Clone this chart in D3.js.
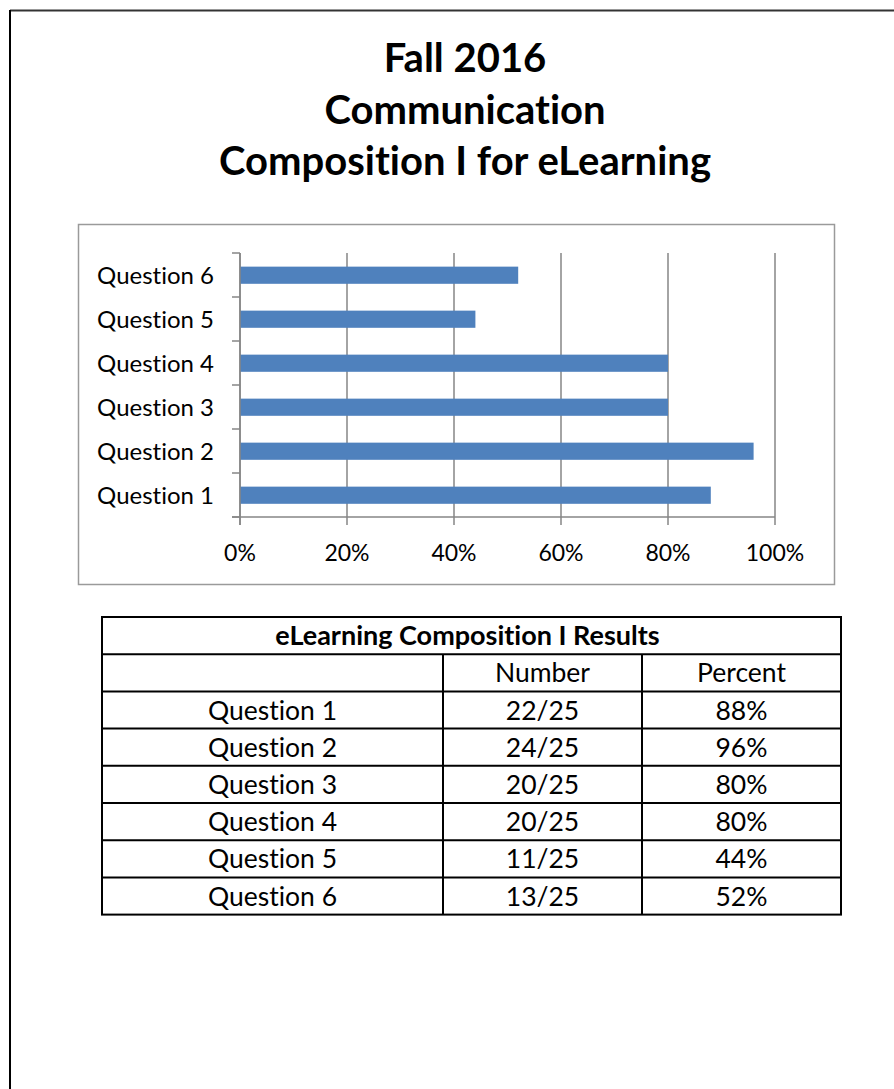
<!DOCTYPE html>
<html>
<head>
<meta charset="utf-8">
<script src="https://cdn.jsdelivr.net/npm/d3@7"></script>
<style>
  body { margin: 0; background: #fff; }
  svg { display: block; font-family: Lato, "Open Sans", sans-serif; font-variant-ligatures: none; }
</style>
</head>
<body>
<svg width="894" height="1089"></svg>
<script>
const titleLines = ["Fall 2016", "Communication", "Composition I for eLearning"];
const questions = ["Question 1", "Question 2", "Question 3", "Question 4", "Question 5", "Question 6"];
const correct = [22, 24, 20, 20, 11, 13];
const total = 25;
const percents = [88, 96, 80, 80, 44, 52];
const xTicks = [0, 20, 40, 60, 80, 100];
const tableTitle = "eLearning Composition I Results";
const tableHeads = ["", "Number", "Percent"];

const svg = d3.select("svg");

// page frame
svg.append("line").attr("x1", 10).attr("x2", 894).attr("y1", 10.5).attr("y2", 10.5)
  .attr("stroke", "#333").attr("stroke-width", 2);
svg.append("line").attr("x1", 10).attr("x2", 10).attr("y1", 10).attr("y2", 1089)
  .attr("stroke", "#000").attr("stroke-width", 2);

// title
svg.append("g")
  .attr("font-weight", "bold")
  .attr("font-size", 40)
  .attr("text-anchor", "middle")
  .selectAll("text")
  .data(titleLines)
  .join("text")
  .attr("x", 465)
  .attr("y", (d, i) => 72 + i * 51.5)
  .text(d => d);

// chart frame
svg.append("rect")
  .attr("x", 78.5).attr("y", 224.5).attr("width", 756).attr("height", 360)
  .attr("fill", "none").attr("stroke", "#9a9a9a").attr("stroke-width", 1.5);

const margin = { top: 253, left: 240, bottom: 517, right: 775 };
const grey = "#868686";

const x = d3.scaleLinear().domain([0, 100]).range([margin.left, margin.right]);
const y = d3.scaleBand().domain(questions.slice().reverse()).range([margin.top, margin.bottom]);

const data = questions.map((q, i) => ({ q, pct: percents[i] }));

const chart = svg.append("g");

// vertical gridlines + bottom ticks
chart.append("g")
  .attr("stroke", grey)
  .attr("stroke-width", 1.5)
  .selectAll("line")
  .data(xTicks)
  .join("line")
  .attr("x1", d => x(d)).attr("x2", d => x(d))
  .attr("y1", margin.top).attr("y2", margin.bottom + 8);

// bottom axis line
chart.append("line")
  .attr("x1", margin.left - 8).attr("x2", margin.right)
  .attr("y1", margin.bottom).attr("y2", margin.bottom)
  .attr("stroke", grey).attr("stroke-width", 1.5);

// left category ticks
const bounds = y.domain().map(d => y(d)).concat([margin.bottom]);
chart.append("g")
  .attr("stroke", grey)
  .attr("stroke-width", 1.5)
  .selectAll("line")
  .data(bounds)
  .join("line")
  .attr("x1", margin.left - 8).attr("x2", margin.left)
  .attr("y1", d => d).attr("y2", d => d);

// bars
chart.append("g")
  .attr("fill", "#4F81BD")
  .selectAll("rect")
  .data(data)
  .join("rect")
  .attr("x", x(0))
  .attr("y", d => y(d.q) + y.bandwidth() * 0.31)
  .attr("width", d => x(d.pct) - x(0))
  .attr("height", y.bandwidth() * 0.39);

// left axis line
chart.append("line")
  .attr("x1", margin.left).attr("x2", margin.left)
  .attr("y1", margin.top).attr("y2", margin.bottom + 8)
  .attr("stroke", grey).attr("stroke-width", 1.5);

// category labels
chart.append("g")
  .attr("font-size", 24)
  .attr("text-anchor", "end")
  .selectAll("text")
  .data(data)
  .join("text")
  .attr("x", margin.left - 26)
  .attr("y", d => y(d.q) + y.bandwidth() / 2)
  .attr("dy", "0.36em")
  .text(d => d.q);

// percent tick labels
chart.append("g")
  .attr("font-size", 23)
  .attr("text-anchor", "middle")
  .selectAll("text")
  .data(xTicks)
  .join("text")
  .attr("x", d => x(d))
  .attr("y", 561)
  .text(d => d + "%");

// results table
const table = { left: 102, top: 617, right: 841, rowH: 37.2, cols: [102, 443, 642, 841] };
const rows = questions.map((q, i) => [q, correct[i] + "/" + total, percents[i] + "%"]);
const nRows = rows.length + 2;
const tg = svg.append("g");

tg.append("rect")
  .attr("x", table.left).attr("y", table.top)
  .attr("width", table.right - table.left).attr("height", nRows * table.rowH)
  .attr("fill", "none").attr("stroke", "#000").attr("stroke-width", 2);

tg.append("g")
  .attr("stroke", "#000").attr("stroke-width", 2)
  .selectAll("line")
  .data(d3.range(1, nRows))
  .join("line")
  .attr("x1", table.left).attr("x2", table.right)
  .attr("y1", i => table.top + i * table.rowH).attr("y2", i => table.top + i * table.rowH);

tg.append("g")
  .attr("stroke", "#000").attr("stroke-width", 2)
  .selectAll("line")
  .data(table.cols.slice(1, 3))
  .join("line")
  .attr("x1", d => d).attr("x2", d => d)
  .attr("y1", table.top + table.rowH).attr("y2", table.top + nRows * table.rowH);

tg.append("text")
  .attr("x", (table.left + table.right) / 2 - 4)
  .attr("y", table.top + table.rowH / 2)
  .attr("dy", "0.36em")
  .attr("text-anchor", "middle")
  .attr("font-weight", "bold")
  .attr("font-size", 27)
  .text(tableTitle);

const bodyRows = [tableHeads].concat(rows);
tg.append("g")
  .attr("font-size", 26.5)
  .attr("text-anchor", "middle")
  .selectAll("g")
  .data(bodyRows)
  .join("g")
  .attr("transform", (d, i) => `translate(0,${table.top + (i + 1) * table.rowH + table.rowH / 2})`)
  .selectAll("text")
  .data(d => d)
  .join("text")
  .attr("x", (d, j) => (table.cols[j] + table.cols[j + 1]) / 2)
  .attr("dy", "0.36em")
  .text(d => d);
</script>
</body>
</html>
